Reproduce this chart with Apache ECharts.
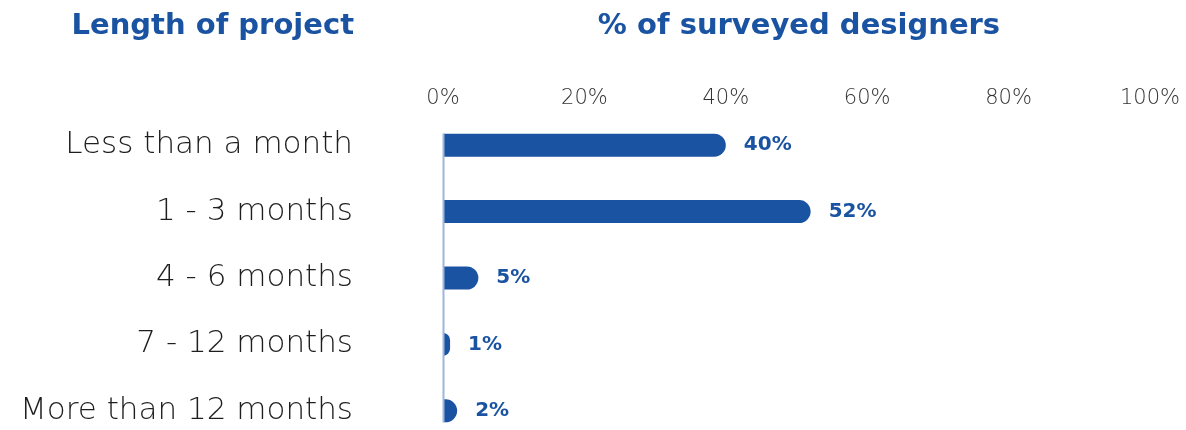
<!DOCTYPE html>
<html>
<head>
<meta charset="utf-8">
<script src="https://cdn.jsdelivr.net/npm/echarts@6/dist/echarts.min.js"></script>
<style>
  html, body { margin: 0; padding: 0; background: #ffffff; overflow: hidden; }
  #chart { width: 1186px; height: 450px; }
</style>
</head>
<body>
<div id="chart"></div>
<script>
// Survey: how long projects last, share of designers per bucket
const categories = ['Less than a month', '1 - 3 months', '4 - 6 months', '7 - 12 months', 'More than 12 months'];
const shares = [40, 52, 5, 1, 2];
const tickValues = [0, 20, 40, 60, 80, 100];

const BLUE = '#1a53a1';
const FONT = '"DejaVu Sans", "Open Sans", sans-serif';
const BAR_H = 23;

const chart = echarts.init(document.getElementById('chart'), null, { renderer: 'canvas' });

chart.setOption({
  animation: false,
  backgroundColor: '#ffffff',
  title: [
    {
      text: 'Length of project',
      left: 349, top: 7, textAlign: 'right',
      textStyle: { color: BLUE, fontFamily: FONT, fontWeight: 700, fontSize: 29 }
    },
    {
      text: '% of surveyed designers',
      left: 794, top: 7, textAlign: 'center',
      textStyle: { color: BLUE, fontFamily: FONT, fontWeight: 700, fontSize: 29 }
    }
  ],
  grid: { left: 443, right: 36, top: 112, bottom: 6, containLabel: false },
  xAxis: {
    type: 'value',
    position: 'top',
    min: 0, max: 100, interval: 20,
    axisLine: { show: false },
    axisTick: { show: false },
    splitLine: { show: false },
    axisLabel: {
      margin: 3,
      color: '#333333',
      fontFamily: FONT, fontWeight: 200, fontSize: 21,
      formatter: v => tickValues.includes(v) ? v + '%' : ''
    }
  },
  yAxis: {
    type: 'category',
    inverse: true,
    data: categories,
    axisLine: { show: false },
    axisTick: { show: false },
    axisLabel: {
      margin: 90,
      color: '#1e1e1e',
      fontFamily: FONT, fontWeight: 200, fontSize: 31
    }
  },
  series: [{
    type: 'bar',
    data: shares,
    barWidth: BAR_H,
    itemStyle: { color: BLUE, borderRadius: [0, BAR_H / 2, BAR_H / 2, 0] },
    label: {
      show: true,
      position: 'right',
      distance: 18,
      color: BLUE,
      fontFamily: FONT, fontWeight: 700, fontSize: 20,
      formatter: p => p.value + '%'
    }
  }]
});

// Baseline at 0%, running from the top of the first bar to the bottom of the last one
const x0 = chart.convertToPixel({ xAxisIndex: 0 }, 0);
const yFirst = chart.convertToPixel({ yAxisIndex: 0 }, categories[0]);
const yLast = chart.convertToPixel({ yAxisIndex: 0 }, categories[categories.length - 1]);
chart.setOption({
  graphic: [{
    type: 'line',
    z: 10,
    shape: { x1: x0 + 0.5, y1: yFirst - BAR_H / 2, x2: x0 + 0.5, y2: yLast + BAR_H / 2 },
    style: { stroke: '#9db6dc', lineWidth: 2 }
  }]
});
</script>
</body>
</html>
